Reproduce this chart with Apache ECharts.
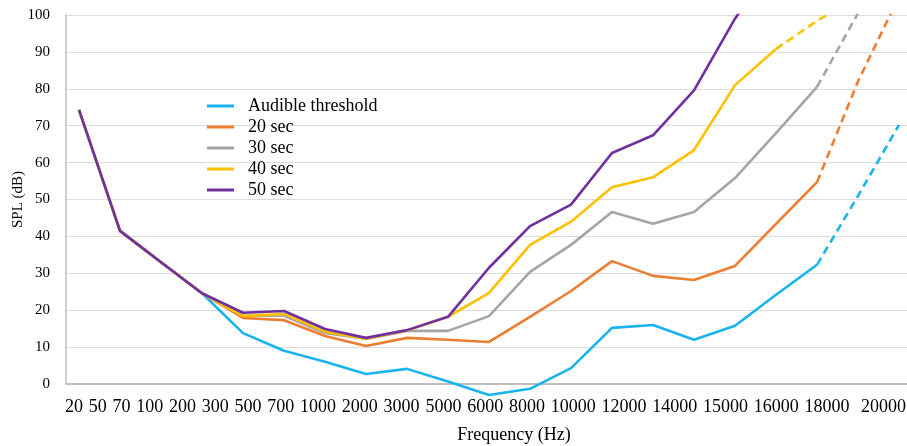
<!DOCTYPE html>
<html>
<head>
<meta charset="utf-8">
<script src="https://cdn.jsdelivr.net/npm/echarts@6/dist/echarts.min.js"></script>
<style>
  html, body { margin: 0; padding: 0; background: #fff; }
  #chart { width: 907px; height: 446px; }
</style>
</head>
<body>
<div id="chart"></div>
<script>
// ---- data ----
const categories = ['20','50','70','100','200','300','500','700','1000','2000','3000','5000','6000','8000','10000','12000','14000','15000','16000','18000','20000'];
const audible = [74.3, 41.5, 33, 24.6, 13.8, 9, 6, 2.7, 4.1, 0.7, -3, -1.3, 4.3, 15.2, 16, 12, 15.8, 24.2, 32.3, 51, 70.2];
const sec20   = [74.3, 41.5, 33, 24.6, 17.9, 17.3, 13, 10.3, 12.5, 12, 11.4, 18.2, 25.2, 33.3, 29.3, 28.2, 32, 43.4, 54.7, 82, 105];
const sec30   = [74.3, 41.5, 33, 24.6, 18.5, 18.5, 13.8, 12.2, 14.4, 14.4, 18.4, 30.4, 37.7, 46.6, 43.4, 46.6, 55.8, 68, 80.5, 100.5];
const sec40   = [74.3, 41.5, 33, 24.6, 18.4, 19, 14.2, 12.3, 14.5, 18.2, 24.7, 37.7, 44, 53.3, 56, 63.4, 81, 90.8, 98.4, 105];
const sec50   = [74.3, 41.5, 33, 24.6, 19.3, 19.8, 14.9, 12.5, 14.6, 18.2, 31.5, 42.8, 48.6, 62.6, 67.4, 79.6, 99, 115];
const seriesNames = ['Audible threshold', '20 sec', '30 sec', '40 sec', '50 sec'];
const seriesValues = [audible, sec20, sec30, sec40, sec50];
const dashFrom = [18, 18, 18, 17, null]; // index where the dashed (extrapolated) part starts

// ---- layout / style ----
const colors = ['#19b4ef', '#ed7d31', '#a5a5a5', '#ffc000', '#7030a0'];
const FONT = '"Liberation Serif", "Times New Roman", serif';
const GRID_LEFT = 66, GRID_RIGHT = 0, W = 907;
const X_MIN = -0.317, X_MAX = 20.195;
const pxPerUnit = (W - GRID_LEFT - GRID_RIGHT) / (X_MAX - X_MIN);

// tick labels laid out as one row of text, as in the reference
const ctx = document.createElement('canvas').getContext('2d');
ctx.font = '18px "Liberation Serif"';
const widths = categories.map(t => ctx.measureText(t).width);
const rowStart = 65, rowEnd = 906;
const totalW = widths.reduce((a, b) => a + b, 0);
const gap = (rowEnd - rowStart - totalW) / categories.length; // last gap is double
const labelVals = [];
let cx = rowStart;
widths.forEach((w, i) => {
  if (i === categories.length - 1) cx += gap;
  labelVals.push(X_MIN + (cx + w / 2 - GRID_LEFT) / pxPerUnit);
  cx += w + gap;
});

const series = [];
seriesValues.forEach((vals, k) => {
  const pts = vals.map((v, i) => [i, v]);
  const d = dashFrom[k];
  const solid = d == null ? pts : pts.slice(0, d + 1);
  series.push({
    name: seriesNames[k], type: 'line', data: solid, symbol: 'none',
    clip: k !== 0,
    lineStyle: { color: colors[k], width: 2.6 }, itemStyle: { color: colors[k] },
    z: 2 + k
  });
  if (d != null) {
    series.push({
      name: seriesNames[k], type: 'line', data: pts.slice(d), symbol: 'none',
      clip: k !== 0,
      lineStyle: { color: colors[k], width: 2.6, type: [8, 5] }, itemStyle: { color: colors[k] },
      z: 2 + k
    });
  }
});

const chart = echarts.init(document.getElementById('chart'), null, { renderer: 'canvas' });
chart.setOption({
  animation: false,
  backgroundColor: '#fff',
  textStyle: { fontFamily: FONT, color: '#000' },
  grid: { left: GRID_LEFT, right: GRID_RIGHT, top: 15, bottom: 62, containLabel: false, outerBoundsMode: 'none' },
  legend: {
    data: seriesNames,
    orient: 'vertical',
    left: 202, top: 92,
    icon: 'rect', itemWidth: 27, itemHeight: 3, itemGap: 3,
    textStyle: { fontFamily: FONT, fontSize: 18, color: '#000', lineHeight: 18, padding: [0, 0, 0, 9] }
  },
  xAxis: {
    type: 'value', min: X_MIN, max: X_MAX,
    name: 'Frequency (Hz)', nameLocation: 'middle', nameGap: 42,
    nameTextStyle: { fontFamily: FONT, fontSize: 18, color: '#000', padding: [0, 0, 0, 55] },
    axisLine: { show: true, onZero: false, lineStyle: { color: '#bfbfbf', width: 2 } },
    axisTick: { show: false },
    splitLine: { show: false },
    axisLabel: {
      customValues: labelVals,
      margin: 14,
      fontFamily: FONT, fontSize: 18, color: '#000',
      formatter: function (v) {
        let best = 0, bd = Infinity;
        labelVals.forEach((lv, i) => { const dd = Math.abs(lv - v); if (dd < bd) { bd = dd; best = i; } });
        return categories[best];
      }
    }
  },
  yAxis: {
    type: 'value', min: 0, max: 100, interval: 10,
    name: 'SPL (dB)', nameLocation: 'middle', nameGap: 40, nameMoveOverlap: false,
    nameTextStyle: { fontFamily: FONT, fontSize: 15, color: '#000' },
    axisLine: { show: true, onZero: false, lineStyle: { color: '#bfbfbf', width: 1.5 } },
    axisTick: { show: false },
    axisLabel: { margin: 16, fontFamily: FONT, fontSize: 15, color: '#000' },
    splitLine: { show: true, lineStyle: { color: '#dcdcdc', width: 1.2 } }
  },
  series: series
});
</script>
</body>
</html>
